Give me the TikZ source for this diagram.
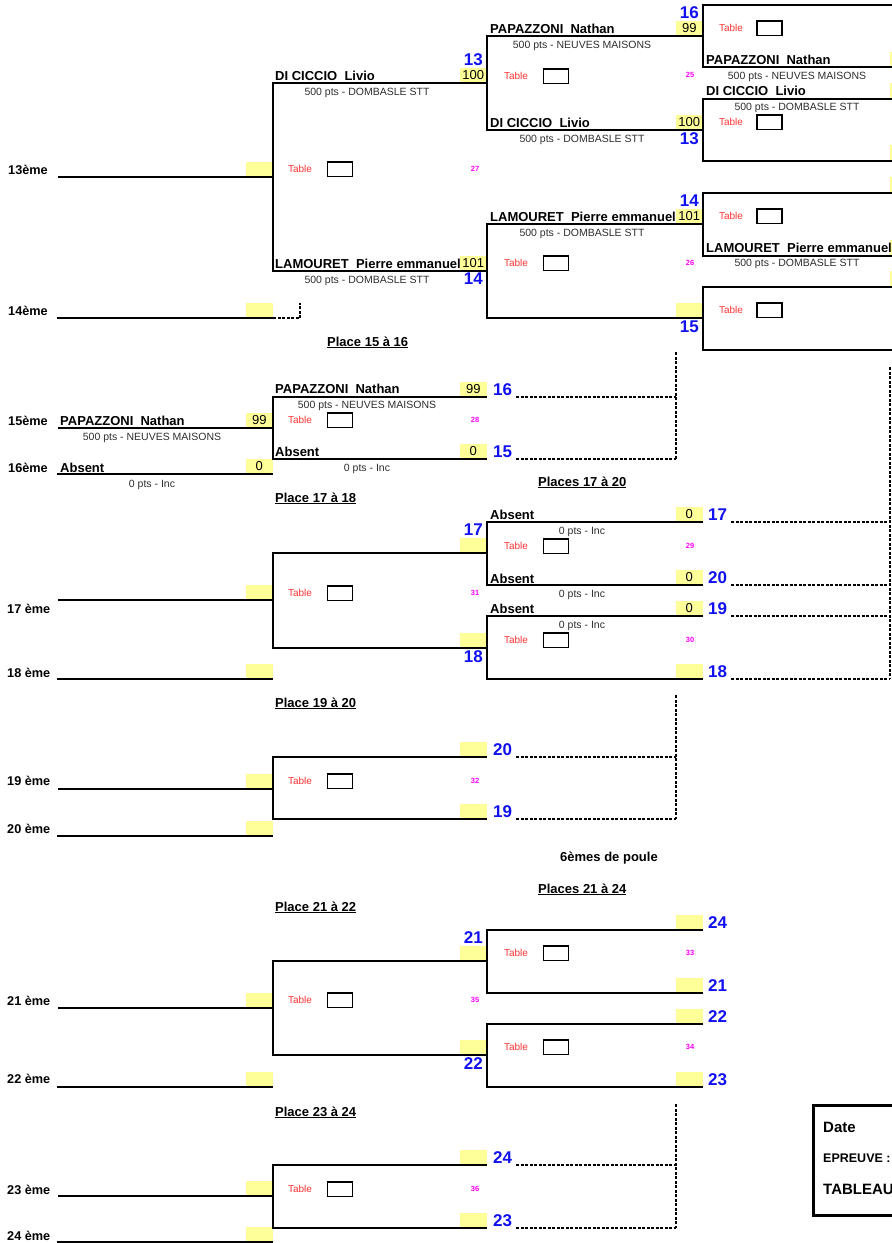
\documentclass[tikz,border=0pt]{standalone}
\usepackage{fontspec}
\setmainfont{Liberation Sans}
\usepackage{tikz}
\usetikzlibrary{positioning}
\definecolor{ScoreYellow}{RGB}{255,255,153}
\definecolor{SeedBlue}{RGB}{16,16,240}
\definecolor{TableRed}{RGB}{255,51,51}
\definecolor{MatchPink}{RGB}{255,0,255}
\definecolor{ClubGrey}{RGB}{45,45,45}
\tikzset{
  bracket/.style={line width=2pt},
  dashlink/.style={line width=1.5pt, dash pattern=on 3pt off 1.5pt},
  scorebox/.style={fill=ScoreYellow, minimum width=27pt, minimum height=15pt,
                   inner sep=0pt, anchor=south east, font=\fontsize{13}{13}\selectfont},
  player/.style={anchor=base west, inner sep=0pt, font=\fontsize{13}{13}\selectfont\bfseries},
  club/.style={anchor=base, inner sep=0pt, text=ClubGrey, font=\fontsize{10.5}{10.5}\selectfont},
  seed/.style={inner sep=0pt, text=SeedBlue, font=\fontsize{17}{17}\selectfont\bfseries},
  tbl/.style={inner sep=0pt, text=TableRed, font=\fontsize{10}{10}\selectfont},
  tblbox/.style={draw, line width=1.5pt, minimum width=25pt, minimum height=14.5pt, inner sep=0pt},
  matchno/.style={inner sep=0pt, text=MatchPink, font=\fontsize{7.5}{7.5}\selectfont\bfseries},
  rank/.style={anchor=base west, inner sep=0pt, font=\fontsize{12.7}{12.7}\selectfont\bfseries},
  heading/.style={anchor=base west, inner sep=0pt, font=\fontsize{13}{13}\selectfont\bfseries},
  infotext/.style={anchor=base west, inner sep=0pt, font=\fontsize{15}{15}\selectfont\bfseries}
}
\begin{document}
\begin{tikzpicture}[x=1pt,y=-1pt]
\useasboundingbox (0,0) rectangle (892,1243);
\clip (0,0) rectangle (892,1243);

\node[rank] (r13) at (8,174) {13ème};
\node[rank] (r14) at (8,315) {14ème};
\node[scorebox] (s13) at (273,177) {};
\node[scorebox] (s14) at (273,318) {};
\draw[bracket] (58,177) -- (273,177);
\draw[bracket] (57,318) -- (273,318);
\draw[dashlink] (273,318) -- (300,318) -- (300,303);

\node[scorebox] (s27a) at (487,83) {100};
\node[scorebox] (s27b) at (487,271) {101};
\draw[bracket] (487,83) -- (273,83) -- (273,271) -- (487,271);
\node[player] (p27a) at (275,80) {DI CICCIO\ \ Livio};
\node[club] (c27a) at (367,95) {500 pts - DOMBASLE STT};
\node[player] (p27b) at (275,268) {LAMOURET\ \ Pierre emmanuel};
\node[club] (c27b) at (367,283) {500 pts - DOMBASLE STT};
\node[seed, above=2pt of s27a] (n27a) {13};
\node[seed, below=2pt of s27b] (n27b) {14};
\node[tbl] (t27) at (300,169) {Table};
\node[tblbox, right=14.5pt of t27] (b27) {};
\node[matchno] (m27) at (475,169) {27};

\node[scorebox] (s25a) at (703,36) {99};
\node[scorebox] (s25b) at (703,130) {100};
\draw[bracket] (703,36) -- (487,36) -- (487,130) -- (703,130);
\node[player] (p25a) at (490,33) {PAPAZZONI\ \ Nathan};
\node[club] (c25a) at (582,48) {500 pts - NEUVES MAISONS};
\node[player] (p25b) at (490,127) {DI CICCIO\ \ Livio};
\node[club] (c25b) at (582,142) {500 pts - DOMBASLE STT};
\node[seed, above=2pt of s25a] (n25a) {16};
\node[seed, below=2pt of s25b] (n25b) {13};
\node[tbl] (t25) at (516,76) {Table};
\node[tblbox, right=14.5pt of t25] (b25) {};
\node[matchno] (m25) at (690,75) {25};

\node[scorebox] (s26a) at (703,224) {101};
\node[scorebox] (s26b) at (703,318) {};
\draw[bracket] (703,224) -- (487,224) -- (487,318) -- (703,318);
\node[player] (p26a) at (490,221) {LAMOURET\ \ Pierre emmanuel};
\node[club] (c26a) at (582,236) {500 pts - DOMBASLE STT};
\node[seed, above=1.5pt of s26a] (n26a) {14};
\node[seed, below=3pt of s26b] (n26b) {15};
\node[tbl] (t26) at (516,263) {Table};
\node[tblbox, right=14.5pt of t26] (b26) {};
\node[matchno] (m26) at (690,263) {26};

\fill[ScoreYellow] (890,52) rectangle (900,67);
\fill[ScoreYellow] (890,83) rectangle (900,98);
\fill[ScoreYellow] (890,145) rectangle (900,160);
\fill[ScoreYellow] (890,177) rectangle (900,192);
\fill[ScoreYellow] (890,240) rectangle (900,255);
\fill[ScoreYellow] (890,271) rectangle (900,286);
\draw[bracket] (900,5) -- (703,5) -- (703,67) -- (900,67);
\draw[bracket] (900,99) -- (703,99) -- (703,161) -- (900,161);
\draw[bracket] (900,193) -- (703,193) -- (703,256) -- (900,256);
\draw[bracket] (900,287) -- (703,287) -- (703,350) -- (900,350);
\node[tbl] (t16) at (731,28) {Table};
\node[tblbox, right=13pt of t16] (b16) {};
\node[player] (p16) at (706,64) {PAPAZZONI\ \ Nathan};
\node[club] (c16) at (797,79) {500 pts - NEUVES MAISONS};
\node[player] (p13) at (706,95) {DI CICCIO\ \ Livio};
\node[club] (c13) at (797,110) {500 pts - DOMBASLE STT};
\node[tbl] (t13) at (731,122) {Table};
\node[tblbox, right=13pt of t13] (b13) {};
\node[tbl] (t14) at (731,216) {Table};
\node[tblbox, right=13pt of t14] (b14) {};
\node[player] (p14) at (706,252) {LAMOURET\ \ Pierre emmanuel};
\node[club] (c14) at (797,266) {500 pts - DOMBASLE STT};
\node[tbl] (t15) at (731,310) {Table};
\node[tblbox, right=13pt of t15] (b15) {};

\node[heading] (h1516) at (327,346) {\underline{Place 15 à 16}};
\node[rank] (r15) at (8,425) {15ème};
\node[player] (p15) at (60,425) {PAPAZZONI\ \ Nathan};
\node[scorebox] (s15) at (273,428) {99};
\node[club] (c15) at (152,440) {500 pts - NEUVES MAISONS};
\node[rank] (r16) at (8,472) {16ème};
\node[player] (p16b) at (60,472) {Absent};
\node[scorebox] (s16) at (273,474) {0};
\node[club] (c16b) at (152,487) {0 pts - Inc};
\draw[bracket] (58,428) -- (273,428);
\draw[bracket] (57,474) -- (273,474);

\node[scorebox] (s28a) at (487,397) {99};
\node[scorebox] (s28b) at (487,459) {0};
\draw[bracket] (487,397) -- (273,397) -- (273,459) -- (487,459);
\node[player] (p28a) at (275,393) {PAPAZZONI\ \ Nathan};
\node[club] (c28a) at (367,408) {500 pts - NEUVES MAISONS};
\node[player] (p28b) at (275,456) {Absent};
\node[club] (c28b) at (367,471) {0 pts - Inc};
\node[seed, right=6pt of s28a] (n28a) {16};
\node[seed, right=6pt of s28b] (n28b) {15};
\node[tbl] (t28) at (300,420) {Table};
\node[tblbox, right=14.5pt of t28] (b28) {};
\node[matchno] (m28) at (475,420) {28};
\draw[dashlink] (516,397) -- (676,397);
\draw[dashlink] (516,459) -- (676,459);
\draw[dashlink] (676,352) -- (676,459);

\node[heading] (h1718) at (275,502) {\underline{Place 17 à 18}};
\node[heading] (h1720) at (538,486) {\underline{Places 17 à 20}};

\node[rank] (r17) at (7,613) {17 ème};
\node[rank] (r18) at (7,677) {18 ème};
\node[scorebox] (s17) at (273,600) {};
\node[scorebox] (s18) at (273,679) {};
\draw[bracket] (58,600) -- (273,600);
\draw[bracket] (57,679) -- (273,679);
\node[scorebox] (s31a) at (487,553) {};
\node[scorebox] (s31b) at (487,648) {};
\draw[bracket] (487,553) -- (273,553) -- (273,648) -- (487,648);
\node[seed, above=2pt of s31a] (n31a) {17};
\node[seed, below=2pt of s31b] (n31b) {18};
\node[tbl] (t31) at (300,593) {Table};
\node[tblbox, right=14.5pt of t31] (b31) {};
\node[matchno] (m31) at (475,593) {31};

\node[scorebox] (s29a) at (703,522) {0};
\node[scorebox] (s29b) at (703,585) {0};
\draw[bracket] (703,522) -- (487,522) -- (487,585) -- (703,585);
\node[player] (p29a) at (490,519) {Absent};
\node[club] (c29a) at (582,534) {0 pts - Inc};
\node[player] (p29b) at (490,583) {Absent};
\node[club] (c29b) at (582,597) {0 pts - Inc};
\node[seed, right=5pt of s29a] (n29a) {17};
\node[seed, right=5pt of s29b] (n29b) {20};
\node[tbl] (t29) at (516,546) {Table};
\node[tblbox, right=14.5pt of t29] (b29) {};
\node[matchno] (m29) at (690,546) {29};

\node[scorebox] (s30a) at (703,616) {0};
\node[scorebox] (s30b) at (703,679) {};
\draw[bracket] (703,616) -- (487,616) -- (487,679) -- (703,679);
\node[player] (p30a) at (490,613) {Absent};
\node[club] (c30a) at (582,628) {0 pts - Inc};
\node[seed, right=5pt of s30a] (n30a) {19};
\node[seed, right=5pt of s30b] (n30b) {18};
\node[tbl] (t30) at (516,640) {Table};
\node[tblbox, right=14.5pt of t30] (b30) {};
\node[matchno] (m30) at (690,640) {30};

\draw[dashlink] (890,367) -- (890,679);
\draw[dashlink] (731,522) -- (890,522);
\draw[dashlink] (731,585) -- (890,585);
\draw[dashlink] (731,616) -- (890,616);
\draw[dashlink] (731,679) -- (890,679);

\node[heading] (h1920) at (275,707) {\underline{Place 19 à 20}};
\node[rank] (r19) at (7,785) {19 ème};
\node[rank] (r20) at (7,833) {20 ème};
\node[scorebox] (s19) at (273,789) {};
\node[scorebox] (s20) at (273,836) {};
\draw[bracket] (58,789) -- (273,789);
\draw[bracket] (57,836) -- (273,836);
\node[scorebox] (s32a) at (487,757) {};
\node[scorebox] (s32b) at (487,819) {};
\draw[bracket] (487,757) -- (273,757) -- (273,819) -- (487,819);
\node[seed, right=6pt of s32a] (n32a) {20};
\node[seed, right=6pt of s32b] (n32b) {19};
\node[tbl] (t32) at (300,781) {Table};
\node[tblbox, right=14.5pt of t32] (b32) {};
\node[matchno] (m32) at (475,781) {32};
\draw[dashlink] (516,757) -- (676,757);
\draw[dashlink] (516,819) -- (676,819);
\draw[dashlink] (676,695) -- (676,819);

\node[heading, anchor=base] (h6) at (609,861) {6èmes de poule};
\node[heading] (h2124) at (538,893) {\underline{Places 21 à 24}};
\node[heading] (h2122) at (275,911) {\underline{Place 21 à 22}};

\node[rank] (r21) at (7,1005) {21 ème};
\node[rank] (r22) at (7,1083) {22 ème};
\node[scorebox] (s21) at (273,1008) {};
\node[scorebox] (s22) at (273,1087) {};
\draw[bracket] (58,1008) -- (273,1008);
\draw[bracket] (57,1087) -- (273,1087);
\node[scorebox] (s35a) at (487,961) {};
\node[scorebox] (s35b) at (487,1055) {};
\draw[bracket] (487,961) -- (273,961) -- (273,1055) -- (487,1055);
\node[seed, above=2pt of s35a] (n35a) {21};
\node[seed, below=2pt of s35b] (n35b) {22};
\node[tbl] (t35) at (300,1000) {Table};
\node[tblbox, right=14.5pt of t35] (b35) {};
\node[matchno] (m35) at (475,1000) {35};

\node[scorebox] (s33a) at (703,930) {};
\node[scorebox] (s33b) at (703,993) {};
\draw[bracket] (703,930) -- (487,930) -- (487,993) -- (703,993);
\node[seed, right=5pt of s33a] (n33a) {24};
\node[seed, right=5pt of s33b] (n33b) {21};
\node[tbl] (t33) at (516,953) {Table};
\node[tblbox, right=14.5pt of t33] (b33) {};
\node[matchno] (m33) at (690,953) {33};

\node[scorebox] (s34a) at (703,1024) {};
\node[scorebox] (s34b) at (703,1087) {};
\draw[bracket] (703,1024) -- (487,1024) -- (487,1087) -- (703,1087);
\node[seed, right=5pt of s34a] (n34a) {22};
\node[seed, right=5pt of s34b] (n34b) {23};
\node[tbl] (t34) at (516,1047) {Table};
\node[tblbox, right=14.5pt of t34] (b34) {};
\node[matchno] (m34) at (690,1047) {34};

\node[heading] (h2324) at (275,1116) {\underline{Place 23 à 24}};
\node[rank] (r23) at (7,1194) {23 ème};
\node[rank] (r24) at (7,1240) {24 ème};
\node[scorebox] (s23) at (273,1196) {};
\node[scorebox] (s24) at (273,1242) {};
\draw[bracket] (58,1196) -- (273,1196);
\draw[bracket] (57,1242) -- (273,1242);
\node[scorebox] (s36a) at (487,1165) {};
\node[scorebox] (s36b) at (487,1228) {};
\draw[bracket] (487,1165) -- (273,1165) -- (273,1228) -- (487,1228);
\node[seed, right=6pt of s36a] (n36a) {24};
\node[seed, right=6pt of s36b] (n36b) {23};
\node[tbl] (t36) at (300,1189) {Table};
\node[tblbox, right=14.5pt of t36] (b36) {};
\node[matchno] (m36) at (475,1189) {36};
\draw[dashlink] (516,1165) -- (676,1165);
\draw[dashlink] (516,1228) -- (676,1228);
\draw[dashlink] (676,1104) -- (676,1228);

\node[draw, line width=3pt, anchor=north west, minimum width=120pt,
      minimum height=110pt, inner sep=0pt] (infobox) at (811.5,1103.5) {};
\node[infotext] (date) at (823,1132) {Date};
\node[infotext, font=\fontsize{12.5}{12.5}\selectfont\bfseries] (epreuve) at (823,1162) {EPREUVE :};
\node[infotext] (tableau) at (823,1194) {TABLEAU};
\end{tikzpicture}
\end{document}
